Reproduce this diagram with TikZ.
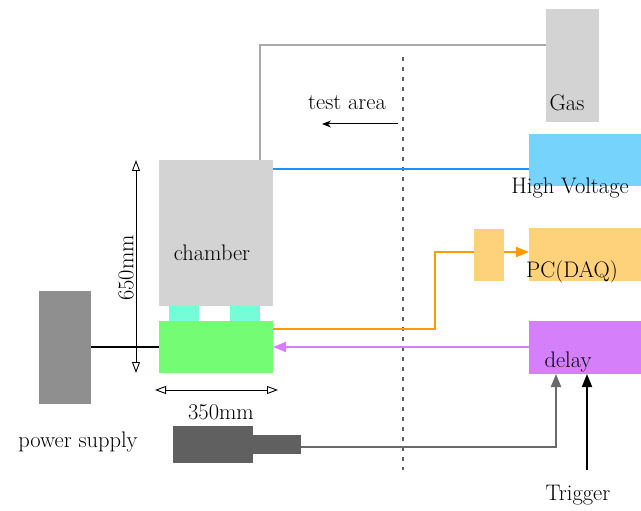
\documentclass[tikz,border=0pt]{standalone}
\usetikzlibrary{arrows.meta}
\definecolor{lgray}{HTML}{D3D3D3}
\definecolor{psgray}{HTML}{8F8F8F}
\definecolor{hvblue}{HTML}{76D4FC}
\definecolor{hvline}{HTML}{1E90FF}
\definecolor{pcorange}{HTML}{FED27A}
\definecolor{orline}{HTML}{FF9A00}
\definecolor{delaymag}{HTML}{D580FA}
\definecolor{aqua}{HTML}{76FCD6}
\definecolor{lgreen}{HTML}{74FC74}
\definecolor{laser}{HTML}{5F605F}
\definecolor{lasline}{HTML}{6A6A6A}
\definecolor{gasline}{HTML}{A9A9A9}
\tikzset{
  blk/.style={draw=none, rectangle, inner sep=0pt, outer sep=0pt},
  lbl/.style={inner sep=0pt, text=black, font=\fontsize{22.5}{26}\selectfont},
  wire/.style={line width=2pt},
  tip/.style={-{Triangle[length=13pt,width=10pt]}},
  dim/.style={{Triangle[open,length=11pt,width=8pt]}-{Triangle[open,length=11pt,width=8pt]}, line width=0.9pt}
}
\begin{document}
\begin{tikzpicture}[x=1pt,y=-1pt]
\useasboundingbox (0,0) rectangle (641,511);
% boxes
\node[blk, fill=lgray, minimum width=53pt, minimum height=113pt] (gas) at (572.5,65.5) {};
\node[blk, fill=hvblue, minimum width=112pt, minimum height=52pt] (hv) at (585,160) {};
\node[blk, fill=pcorange, minimum width=112pt, minimum height=53pt] (pc) at (585,254.5) {};
\node[blk, fill=pcorange, minimum width=30pt, minimum height=52pt] (conv) at (489,255) {};
\node[blk, fill=delaymag, minimum width=112pt, minimum height=53pt] (delay) at (585,347.5) {};
\node[blk, fill=lgray, minimum width=114pt, minimum height=146pt] (chamber) at (216,233) {};
\node[blk, fill=aqua, minimum width=30pt, minimum height=15pt] (aq1) at (184,313.5) {};
\node[blk, fill=aqua, minimum width=30pt, minimum height=15pt] (aq2) at (245,313.5) {};
\node[blk, fill=lgreen, minimum width=114pt, minimum height=52pt] (green) at (216,347) {};
\node[blk, fill=psgray, minimum width=52pt, minimum height=113pt] (ps) at (65,347.5) {};
\node[blk, fill=laser, minimum width=80pt, minimum height=37pt] (las) at (213,444.5) {};
\node[blk, fill=laser, minimum width=48pt, minimum height=19pt, anchor=west] (lasnose) at (las.east) {};
% labels
\node[lbl] (gaslbl) at (567,103) {Gas};
\node[lbl] (hvlbl) at (570,188) {High Voltage};
\node[lbl] (pclbl) at (572,272) {PC(DAQ)};
\node[lbl] (delaylbl) at (568,362) {delay};
\node[lbl] (chlbl) at (212,253) {chamber};
\node[lbl] (pslbl) at (78,442) {power supply};
\node[lbl] (trig) at (578,495) {Trigger};
\node[lbl] (ta) at (347,103) {test area};
\node[lbl] (dh) at (221,412) {350mm};
\node[lbl, rotate=90] (dv) at (126,268) {650mm};
% dotted boundary
\coordinate (bt) at (403,57);
\coordinate (bb) at (403,470);
\draw[laser, line width=2.2pt, dash pattern=on 4pt off 6pt] (bt) -- (bb);
\coordinate (taR) at (398,124);
\coordinate (taL) at (322,124);
\draw[line width=1pt, -{Stealth[length=9pt,width=7pt]}] (taR) -- (taL);
% connectors
\draw[gasline, wire] (gas.west |- 0,45) -- (260,45) -- (260,0 |- chamber.north);
\draw[hvline, wire] (chamber.east |- 0,169) -- (hv.west |- 0,169);
\draw[orline, wire] (green.east |- 0,329) -- (435,329) -- (435,252) -- (conv.west |- 0,252);
\draw[orline, wire, tip] (conv.east |- 0,252) -- (pc.west |- 0,252);
\draw[delaymag, wire, tip] (delay.west |- 0,347) -- (green.east |- 0,347);
\draw[black, wire] (ps.east |- 0,347) -- (green.west |- 0,347);
\draw[lasline, wire, tip] (lasnose.east |- 0,447) -- (556,447) -- (556,0 |- delay.south);
\coordinate (trigS) at (587,470);
\draw[black, wire, tip] (trigS) -- (587,0 |- delay.south);
% dimensions
\coordinate (dvT) at (136,160);
\coordinate (dvB) at (136,373);
\draw[dim] (dvT) -- (dvB);
\coordinate (dhL) at (155,390);
\coordinate (dhR) at (278,390);
\draw[dim] (dhL) -- (dhR);
\end{tikzpicture}
\end{document}
